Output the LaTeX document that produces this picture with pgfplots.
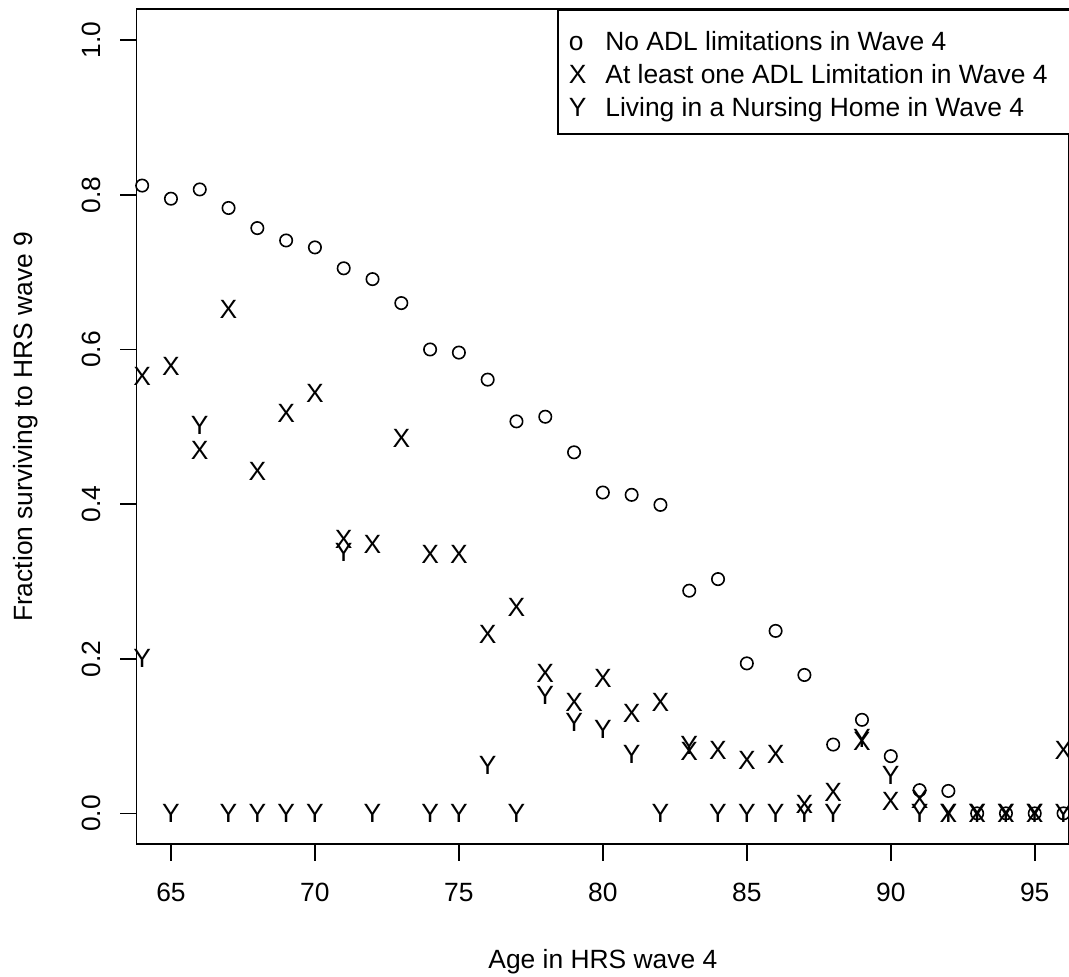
\documentclass[border=0pt]{standalone}
\usepackage{fontspec}
\setmainfont{Liberation Sans}
\usepackage{pgfplots}
\pgfplotsset{compat=1.18}
\newcommand{\rfont}{\fontsize{13.2}{15.8}\selectfont}

\begin{document}
\begin{tikzpicture}[font=\rfont]
\begin{axis}[
  scale only axis,
  width=466.15pt, height=417.5pt,
  xmin=63.81, xmax=96.19,
  ymin=-0.04, ymax=1.04,
  axis line style={line width=0.8pt},
  every tick/.style={black, line width=0.8pt},
  tick align=outside,
  major tick length=8.3pt,
  xtick pos=bottom, ytick pos=left,
  xtick={65,70,...,95},
  ytick={0,0.2,0.4,0.6,0.8,1.0},
  /pgf/number format/assume math mode=true,
  xticklabel style={anchor=north, inner sep=0pt},
  yticklabel style={/pgf/number format/fixed, /pgf/number format/fixed zerofill,
    /pgf/number format/precision=1, rotate=90, anchor=south, inner sep=0pt},
  xticklabel shift=10.8pt,
  yticklabel shift=9.3pt,
  xlabel={Age in HRS wave 4},
  ylabel={Fraction surviving to HRS wave 9},
  xlabel style={at={([yshift=-52.35pt]axis description cs:0.5,0)}, anchor=north, inner sep=0pt},
  ylabel style={at={([xshift=-61.85pt]axis description cs:0,0.5)}, rotate=0, anchor=north, inner sep=0pt},
  legend cell align=left,
  legend style={at={(rel axis cs:0.4508,1)}, anchor=north west, draw=black, line width=0.8pt,
    inner xsep=5.5pt, inner ysep=8.3pt, row sep=3.7pt, column sep=9.5pt,
    nodes={inner sep=0pt, text height=12pt, text depth=0.7pt}, font=\rfont},
]
% no ADL limitations
\addplot[only marks, mark=o, mark size=3.1pt, mark options={line width=0.8pt, black},
  legend image code/.code={\node at (4.4pt,0) {o};}]
coordinates {
(64,0.812) (65,0.795) (66,0.807) (67,0.783) (68,0.757) (69,0.741) (70,0.732)
(71,0.705) (72,0.691) (73,0.660) (74,0.600) (75,0.596) (76,0.561) (77,0.507)
(78,0.513) (79,0.467) (80,0.415) (81,0.412) (82,0.399) (83,0.288) (84,0.303)
(85,0.194) (86,0.236) (87,0.179) (88,0.089) (89,0.121) (90,0.074) (91,0.030)
(92,0.029) (93,0) (94,0) (95,0) (96,0)
};
\addlegendentry{No ADL limitations in Wave 4\hspace*{20pt}}
% at least one ADL limitation
\addplot[only marks, mark=text, text mark={X}, text mark as node=true,
  text mark style={font=\rfont, inner sep=0pt},
  legend image code/.code={\node at (4.4pt,0) {X};}]
coordinates {
(64,0.565) (65,0.578) (66,0.470) (67,0.652) (68,0.442) (69,0.517) (70,0.543)
(71,0.354) (72,0.348) (73,0.485) (74,0.335) (75,0.335) (76,0.232) (77,0.266)
(78,0.181) (79,0.143) (80,0.174) (81,0.129) (82,0.143) (83,0.080) (84,0.082)
(85,0.069) (86,0.076) (87,0.012) (88,0.027) (89,0.093) (90,0.015) (91,0.018)
(92,0) (93,0) (94,0) (95,0) (96,0.082)
};
\addlegendentry{At least one ADL Limitation in Wave 4\hspace*{20pt}}
% nursing home
\addplot[only marks, mark=text, text mark={Y}, text mark as node=true,
  text mark style={font=\rfont, inner sep=0pt},
  legend image code/.code={\node at (4.4pt,0) {Y};}]
coordinates {
(64,0.2) (65,0) (66,0.502) (67,0) (68,0) (69,0) (70,0)
(71,0.337) (72,0) (74,0) (75,0) (76,0.062) (77,0)
(78,0.152) (79,0.117) (80,0.109) (81,0.076) (82,0) (83,0.088) (84,0)
(85,0) (86,0) (87,0) (88,0) (89,0.097) (90,0.049) (91,0)
(92,0) (93,0) (94,0) (95,0) (96,0)
};
\addlegendentry{Living in a Nursing Home in Wave 4\hspace*{20pt}}
\coordinate (ll) at (rel axis cs:0,0);
\coordinate (ur) at (rel axis cs:1,1);
\end{axis}
\pgfresetboundingbox
\path[use as bounding box] ([xshift=-68.35pt,yshift=-66.35pt]ll) rectangle ([yshift=4.65pt]ur);
\end{tikzpicture}
\end{document}
